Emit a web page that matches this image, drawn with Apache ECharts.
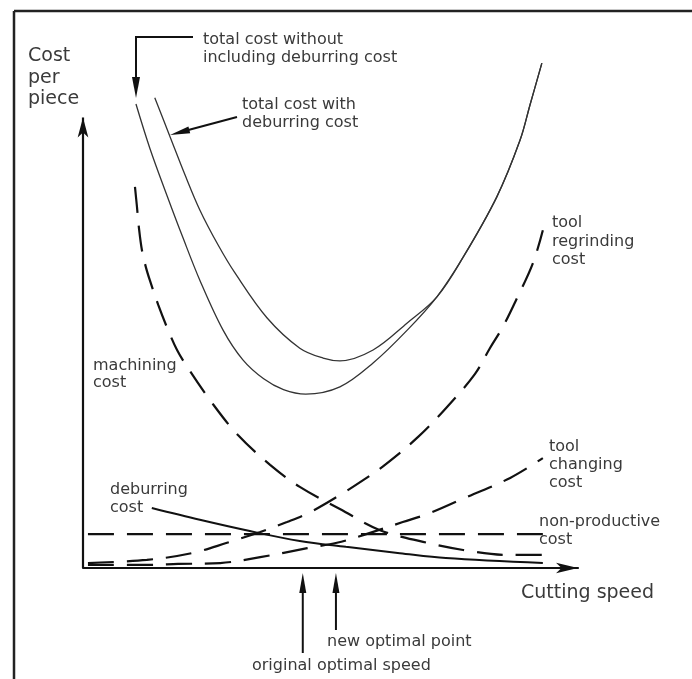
<!DOCTYPE html>
<html><head><meta charset="utf-8">
<script src="https://cdn.jsdelivr.net/npm/echarts@6/dist/echarts.min.js"></script>
<style>html,body{margin:0;padding:0;background:#fff}#c{width:692px;height:679px}</style>
</head><body><div id="c"></div>
<script>
// Cutting speed (x, 0-100) vs cost per piece (y, arbitrary units)
const totalWithoutDeburring = [[10.7,103.0],[13.5,93.2],[17.0,82.6],[20.2,73.3],[23.6,63.9],[28.3,52.8],[32.3,46.2],[36.5,42.0],[40.5,39.6],[45.0,38.6],[51.9,40.2],[58.6,45.5],[65.5,52.8],[71.5,60.2],[76.8,69.0],[83.6,82.4],[88.3,95.0],[90.3,102.8],[92.7,112.1]];
const totalWithDeburring = [[14.5,104.4],[17.6,95.7],[20.6,87.3],[23.6,79.5],[27.3,71.7],[30.7,65.5],[37.2,55.5],[43.8,48.8],[48.5,46.6],[51.9,46.0],[58.6,48.4],[65.5,54.4],[71.5,60.2],[76.8,69.0],[83.6,82.4],[88.3,95.0],[90.3,102.8],[92.7,112.1]];
const machiningCost = [[10.5,84.6],[10.9,80.2],[11.3,75.5],[11.9,70.6],[12.7,66.8],[13.5,63.9],[15.2,58.4],[17.2,52.8],[19.0,48.4],[21.2,44.4],[26.1,36.6],[31.3,29.5],[37.8,22.9],[43.8,18.0],[51.9,13.1],[60.0,8.4],[68.7,5.8],[76.8,4.0],[85.7,2.9],[92.9,2.9]];
const toolRegrindingCost = [[1.0,1.1],[12.9,1.8],[22.0,3.3],[29.1,5.6],[35.8,8.0],[41.2,10.2],[45.9,12.4],[51.9,16.2],[56.6,19.5],[61.0,22.9],[67.7,29.1],[73.5,35.7],[79.2,43.1],[82.2,48.8],[84.8,53.5],[87.5,59.5],[90.9,67.7],[92.9,75.0]];
const toolChangingCost = [[1.0,0.7],[13.5,0.7],[19.2,0.9],[27.7,1.1],[35.8,2.4],[45.3,4.4],[51.3,5.6],[56.6,7.3],[64.6,10.2],[70.1,12.2],[77.6,15.8],[86.3,20.0],[92.9,24.4]];
const nonProductiveCost = [[1.0,7.5],[92.9,7.5]];
const deburringCost = [[13.9,13.3],[23.6,10.7],[33.7,8.2],[43.8,6.0],[53.1,4.7],[64.0,3.3],[73.3,2.2],[92.9,1.1]];
const optimalSpeeds = [44.4, 51.1]; // original optimal speed, new optimal point
const yAxisTop = 100;

const chart = echarts.init(document.getElementById('c'), null, {renderer:'canvas'});
const dash = [26, 13];
function solid(name, data, w, col) {
  return {name, type:'line', data, showSymbol:false, symbol:'none', smooth:0.35, clip:false, silent:true,
    lineStyle:{color:col, width:w, type:'solid'}};
}
function dashed(name, data, smooth) {
  return {name, type:'line', data, showSymbol:false, symbol:'none', smooth:smooth, clip:false, silent:true,
    lineStyle:{color:'#111', width:2.2, type:dash, cap:'butt'}};
}
const series = [
  solid('total cost without including deburring cost', totalWithoutDeburring, 1.3, '#333'),
  solid('total cost with deburring cost', totalWithDeburring, 1.3, '#333'),
  dashed('machining cost', machiningCost, 0.35),
  dashed('tool regrinding cost', toolRegrindingCost, 0.35),
  dashed('tool changing cost', toolChangingCost, 0.35),
  dashed('non-productive cost', nonProductiveCost, false),
  solid('deburring cost', deburringCost, 2, '#111')
];
series[0].markLine = {silent:true, symbol:['none','arrow'], symbolSize:[8,20], label:{show:false},
  lineStyle:{type:'solid', color:'#111', width:2.2}, emphasis:{disabled:true},
  data:[[{coord:[0,0]},{coord:[0,yAxisTop]}]]};

chart.setOption({
  animation:false,
  grid:{left:83, right:114, top:50, bottom:111},
  xAxis:{type:'value', min:0, max:100, axisLine:{show:true, symbol:['none','arrow'], symbolSize:[8,22], lineStyle:{color:'#111', width:2.2}},
    axisTick:{show:false}, axisLabel:{show:false}, splitLine:{show:false}},
  yAxis:{type:'value', min:0, max:115, show:false, splitLine:{show:false}},
  series
});

function arrowLine(x1,y1,x2,y2,len,w){
  const dx=x2-x1, dy=y2-y1, L=Math.hypot(dx,dy), ux=dx/L, uy=dy/L;
  const bx=x2-ux*len, by=y2-uy*len, px=-uy*w/2, py=ux*w/2;
  return [
    {type:'line', shape:{x1,y1,x2:bx+ux*2,y2:by+uy*2}, style:{stroke:'#111', lineWidth:2}},
    {type:'polygon', shape:{points:[[x2,y2],[bx+px,by+py],[bx-px,by-py]]}, style:{fill:'#111'}}
  ];
}
const font = '16px "DejaVu Sans"';
const big = '19px "DejaVu Sans"';
function txt(x,y,t,f){return {type:'text', x, y, style:{text:t, font:f||font, fill:'#3a3a3a', textVerticalAlign:'middle', verticalAlign:'middle', align:'left'}};}

const g = [];
g.push({type:'line', shape:{x1:14,y1:11,x2:692,y2:11}, style:{stroke:'#222', lineWidth:2.5}});
g.push({type:'line', shape:{x1:14,y1:11,x2:14,y2:679}, style:{stroke:'#222', lineWidth:2.5}});
g.push(txt(28,56,'Cost',big), txt(28,78,'per',big), txt(28,99,'piece',big));
g.push(txt(203,40,'total cost without'), txt(203,58,'including deburring cost'));
g.push({type:'polyline', shape:{points:[[193,37],[136,37],[136,80]]}, style:{stroke:'#111', lineWidth:2, fill:null}});
g.push({type:'polygon', shape:{points:[[136,98],[132,77],[140,77]]}, style:{fill:'#111'}});
g.push(txt(242,105,'total cost with'), txt(242,123,'deburring cost'));
g.push(...arrowLine(237,117,170,135,20,7));
g.push(txt(552,223,'tool'), txt(552,242,'regrinding'), txt(552,260,'cost'));
g.push(txt(93,366,'machining'), txt(93,383,'cost'));
g.push(txt(549,447,'tool'), txt(549,465,'changing'), txt(549,483,'cost'));
g.push(txt(539,522,'non-productive'), txt(539,540,'cost'));
g.push(txt(110,490,'deburring'), txt(110,508,'cost'));
g.push(txt(521,593,'Cutting speed',big));
const x0 = chart.convertToPixel({gridIndex:0},[optimalSpeeds[0],0])[0];
const x1 = chart.convertToPixel({gridIndex:0},[optimalSpeeds[1],0])[0];
g.push(...arrowLine(x0,653,x0,573,20,7));
g.push(...arrowLine(x1,630,x1,573,20,7));
g.push(txt(327,642,'new optimal point'), txt(252,666,'original optimal speed'));
chart.setOption({graphic:g});
</script></body></html>
